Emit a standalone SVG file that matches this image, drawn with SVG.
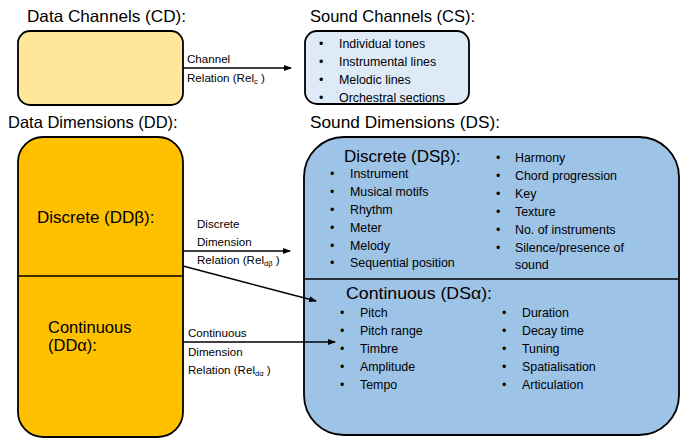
<svg xmlns="http://www.w3.org/2000/svg" width="695" height="439" viewBox="0 0 695 439">
<style>
text{font-family:"Liberation Sans",Arial,sans-serif;fill:#000}
.h{font-size:16.5px}
.m{font-size:17px}
.s{font-size:12.4px}
.l{font-size:11.6px}
.box{stroke:#000;stroke-width:1.8}
.ln{stroke:#000;stroke-width:1.5;fill:none}
</style>
<defs>
<marker id="ah" markerWidth="8" markerHeight="6" refX="7" refY="3" orient="auto" markerUnits="userSpaceOnUse">
<path d="M0,0 L8,3 L0,6 Z" fill="#000"/>
</marker>
</defs>
<text class="h" x="27" y="22" textLength="159" lengthAdjust="spacingAndGlyphs">Data Channels (CD):</text>
<text class="h" x="310" y="22">Sound Channels (CS):</text>
<text class="h" x="8" y="128">Data Dimensions (DD):</text>
<text class="h" x="310" y="128" textLength="190" lengthAdjust="spacingAndGlyphs">Sound Dimensions (DS):</text>

<g id="cd">
<rect class="box" x="18" y="31" width="165" height="74" rx="12" fill="#FFE699"/>
</g>

<g id="cs">
<rect class="box" x="305" y="31" width="164" height="73" rx="12" fill="#DEEBF7"/>
<g class="s">
<text x="319" y="48">•</text><text x="339" y="48">Individual tones</text>
<text x="319" y="66">•</text><text x="339" y="66">Instrumental lines</text>
<text x="319" y="84">•</text><text x="339" y="84">Melodic lines</text>
<text x="319" y="102">•</text><text x="339" y="102">Orchestral sections</text>
</g>
</g>

<g id="dd">
<rect class="box" x="18" y="137" width="165" height="300" rx="25" fill="#FFC000"/>
<line class="ln" x1="18" y1="276" x2="183" y2="276"/>
<text class="m" x="37" y="223">Discrete (DDβ):</text>
<text x="48" y="333" font-size="16.5">Continuous</text>
<text x="48" y="351" font-size="16.5">(DDα):</text>
</g>

<g id="ds">
<rect class="box" x="304" y="137" width="375" height="298" rx="40" fill="#9DC3E6"/>
<line class="ln" x1="304" y1="279" x2="679" y2="279"/>
<text class="m" x="344" y="162">Discrete (DSβ):</text>
<g class="s">
<text x="330" y="178">•</text><text x="350" y="178">Instrument</text>
<text x="330" y="196">•</text><text x="350" y="196">Musical motifs</text>
<text x="330" y="214">•</text><text x="350" y="214">Rhythm</text>
<text x="330" y="232">•</text><text x="350" y="232">Meter</text>
<text x="330" y="250">•</text><text x="350" y="250">Melody</text>
<text x="330" y="267">•</text><text x="350" y="267">Sequential position</text>
<text x="496" y="162">•</text><text x="515" y="162">Harmony</text>
<text x="496" y="180">•</text><text x="515" y="180">Chord progression</text>
<text x="496" y="198">•</text><text x="515" y="198">Key</text>
<text x="496" y="216">•</text><text x="515" y="216">Texture</text>
<text x="496" y="234">•</text><text x="515" y="234">No. of instruments</text>
<text x="496" y="252">•</text><text x="515" y="252">Silence/presence of</text>
<text x="515" y="269">sound</text>
</g>
<text class="m" x="346" y="299" textLength="146" lengthAdjust="spacingAndGlyphs">Continuous (DSα):</text>
<g class="s">
<text x="340" y="317">•</text><text x="360" y="317">Pitch</text>
<text x="340" y="335">•</text><text x="360" y="335">Pitch range</text>
<text x="340" y="353">•</text><text x="360" y="353">Timbre</text>
<text x="340" y="371">•</text><text x="360" y="371">Amplitude</text>
<text x="340" y="389">•</text><text x="360" y="389">Tempo</text>
<text x="502" y="317">•</text><text x="522" y="317">Duration</text>
<text x="502" y="335">•</text><text x="522" y="335">Decay time</text>
<text x="502" y="353">•</text><text x="522" y="353">Tuning</text>
<text x="502" y="371">•</text><text x="522" y="371">Spatialisation</text>
<text x="502" y="389">•</text><text x="522" y="389">Articulation</text>
</g>
</g>

<g id="connectors">
<line class="ln" x1="183" y1="68" x2="291" y2="68" marker-end="url(#ah)"/>
<line class="ln" x1="183" y1="251" x2="290" y2="251" marker-end="url(#ah)"/>
<line class="ln" x1="183" y1="266" x2="316" y2="301" marker-end="url(#ah)"/>
<line class="ln" x1="183" y1="342" x2="335" y2="342" marker-end="url(#ah)"/>
<g class="l">
<text x="187" y="63">Channel</text>
<text x="187" y="82">Relation (Rel<tspan font-size="7.5" dy="2">c</tspan><tspan dy="-2"> )</tspan></text>
<text x="197" y="228">Discrete</text>
<text x="197" y="246">Dimension</text>
<text x="197" y="264">Relation (Rel<tspan font-size="7.5" dy="2">dβ</tspan><tspan dy="-2"> )</tspan></text>
<text x="188" y="337">Continuous</text>
<text x="188" y="356">Dimension</text>
<text x="188" y="374">Relation (Rel<tspan font-size="7.5" dy="2">dα</tspan><tspan dy="-2"> )</tspan></text>
</g>
</g>
</svg>
